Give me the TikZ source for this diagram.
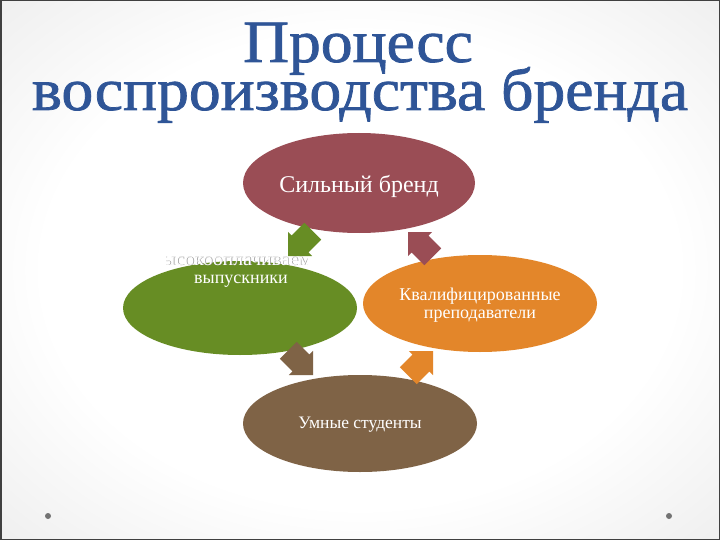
\documentclass[tikz,border=0pt]{standalone}
\usepackage{fontspec}
\setmainfont{Liberation Serif}
\newfontfamily\titlefont[FakeBold=1.2]{Liberation Serif}
\usetikzlibrary{shapes.geometric}
\definecolor{titleblue}{HTML}{2F5597}
\definecolor{cred}{HTML}{9A4D55}
\definecolor{cgreen}{HTML}{678D24}
\definecolor{corange}{HTML}{E3862A}
\definecolor{cbrown}{HTML}{7F6346}
\pgfdeclareradialshading{bgshade}{\pgfpoint{0bp}{0bp}}{color(0bp)=(white); color(22bp)=(white); color(50bp)=(black!13); color(72bp)=(black!18)}
\newcommand\blockarrow[3]{%
  \fill[#1, shift={#2}, rotate=#3] (0,0) -- (-17,17) -- (-17,12) -- (-35,12) -- (-35,-12) -- (-17,-12) -- (-17,-17) -- cycle;}
\tikzset{
  titletext/.style={font=\titlefont\fontsize{60}{60}\selectfont, text=titleblue, inner sep=0, anchor=base},
  ell/.style={ellipse, draw=none, inner sep=0},
  lbl/.style={text=white, inner sep=0, anchor=base},
  shadowlbl/.style={text=black!40, inner sep=0, anchor=base},
  dot/.style={circle, fill=black!55, minimum size=6, inner sep=0},
}
\begin{document}
\begin{tikzpicture}[x=1pt,y=-1pt]
\useasboundingbox (0,0) rectangle (720,540);
\shade[shading=bgshade] (0,0) rectangle (720,540);
\draw[black!75, line width=1.5pt] (0.75,0.75) rectangle (719.25,539.25);

\node[titletext, text depth=0pt] (t1) at (358,62) {\scalebox{1.06}[1]{Процесс}};
\node[titletext, text height=28pt] (t2) at (360,110) {\scalebox{1.06}[1]{воспроизводства бренда}};

\node[ell, fill=cred, minimum width=232, minimum height=100] (e1) at (359,183) {};
\node[ell, fill=cgreen, minimum width=234, minimum height=94] (e2) at (240,308) {};
\node[ell, fill=corange, minimum width=234, minimum height=97] (e3) at (480,303.5) {};
\node[ell, fill=cbrown, minimum width=234, minimum height=97] (e4) at (360,423.5) {};

\node[lbl, font=\fontsize{24}{24}\selectfont] (l1) at (359,193) {Сильный бренд};

\begin{scope}
\clip (166,240) rectangle (307,300);
\node[shadowlbl, font=\fontsize{18}{18}\selectfont] (s2a) at (241.7,265.7) {\scalebox{1.1}[1]{Высокооплачиваемые}};
\node[lbl, font=\fontsize{18}{18}\selectfont] (l2a) at (241,265) {\scalebox{1.1}[1]{Высокооплачиваемые}};
\end{scope}
\node[lbl, font=\fontsize{18}{18}\selectfont] (l2b) at (241,283) {выпускники};

\node[lbl, font=\fontsize{18}{18}\selectfont] (l3a) at (480,300) {Квалифицированные};
\node[lbl, font=\fontsize{18}{18}\selectfont] (l3b) at (480,318) {преподаватели};

\node[lbl, font=\fontsize{17.5}{17.5}\selectfont] (l4) at (360,428) {Умные студенты};

\blockarrow{cgreen}{(288,256)}{225}
\blockarrow{cred}{(408,232)}{135}
\blockarrow{corange}{(433,351)}{45}
\blockarrow{cbrown}{(313,375)}{-45}

\node[dot] (d1) at (48,516) {};
\node[dot] (d2) at (669,516) {};
\end{tikzpicture}
\end{document}
